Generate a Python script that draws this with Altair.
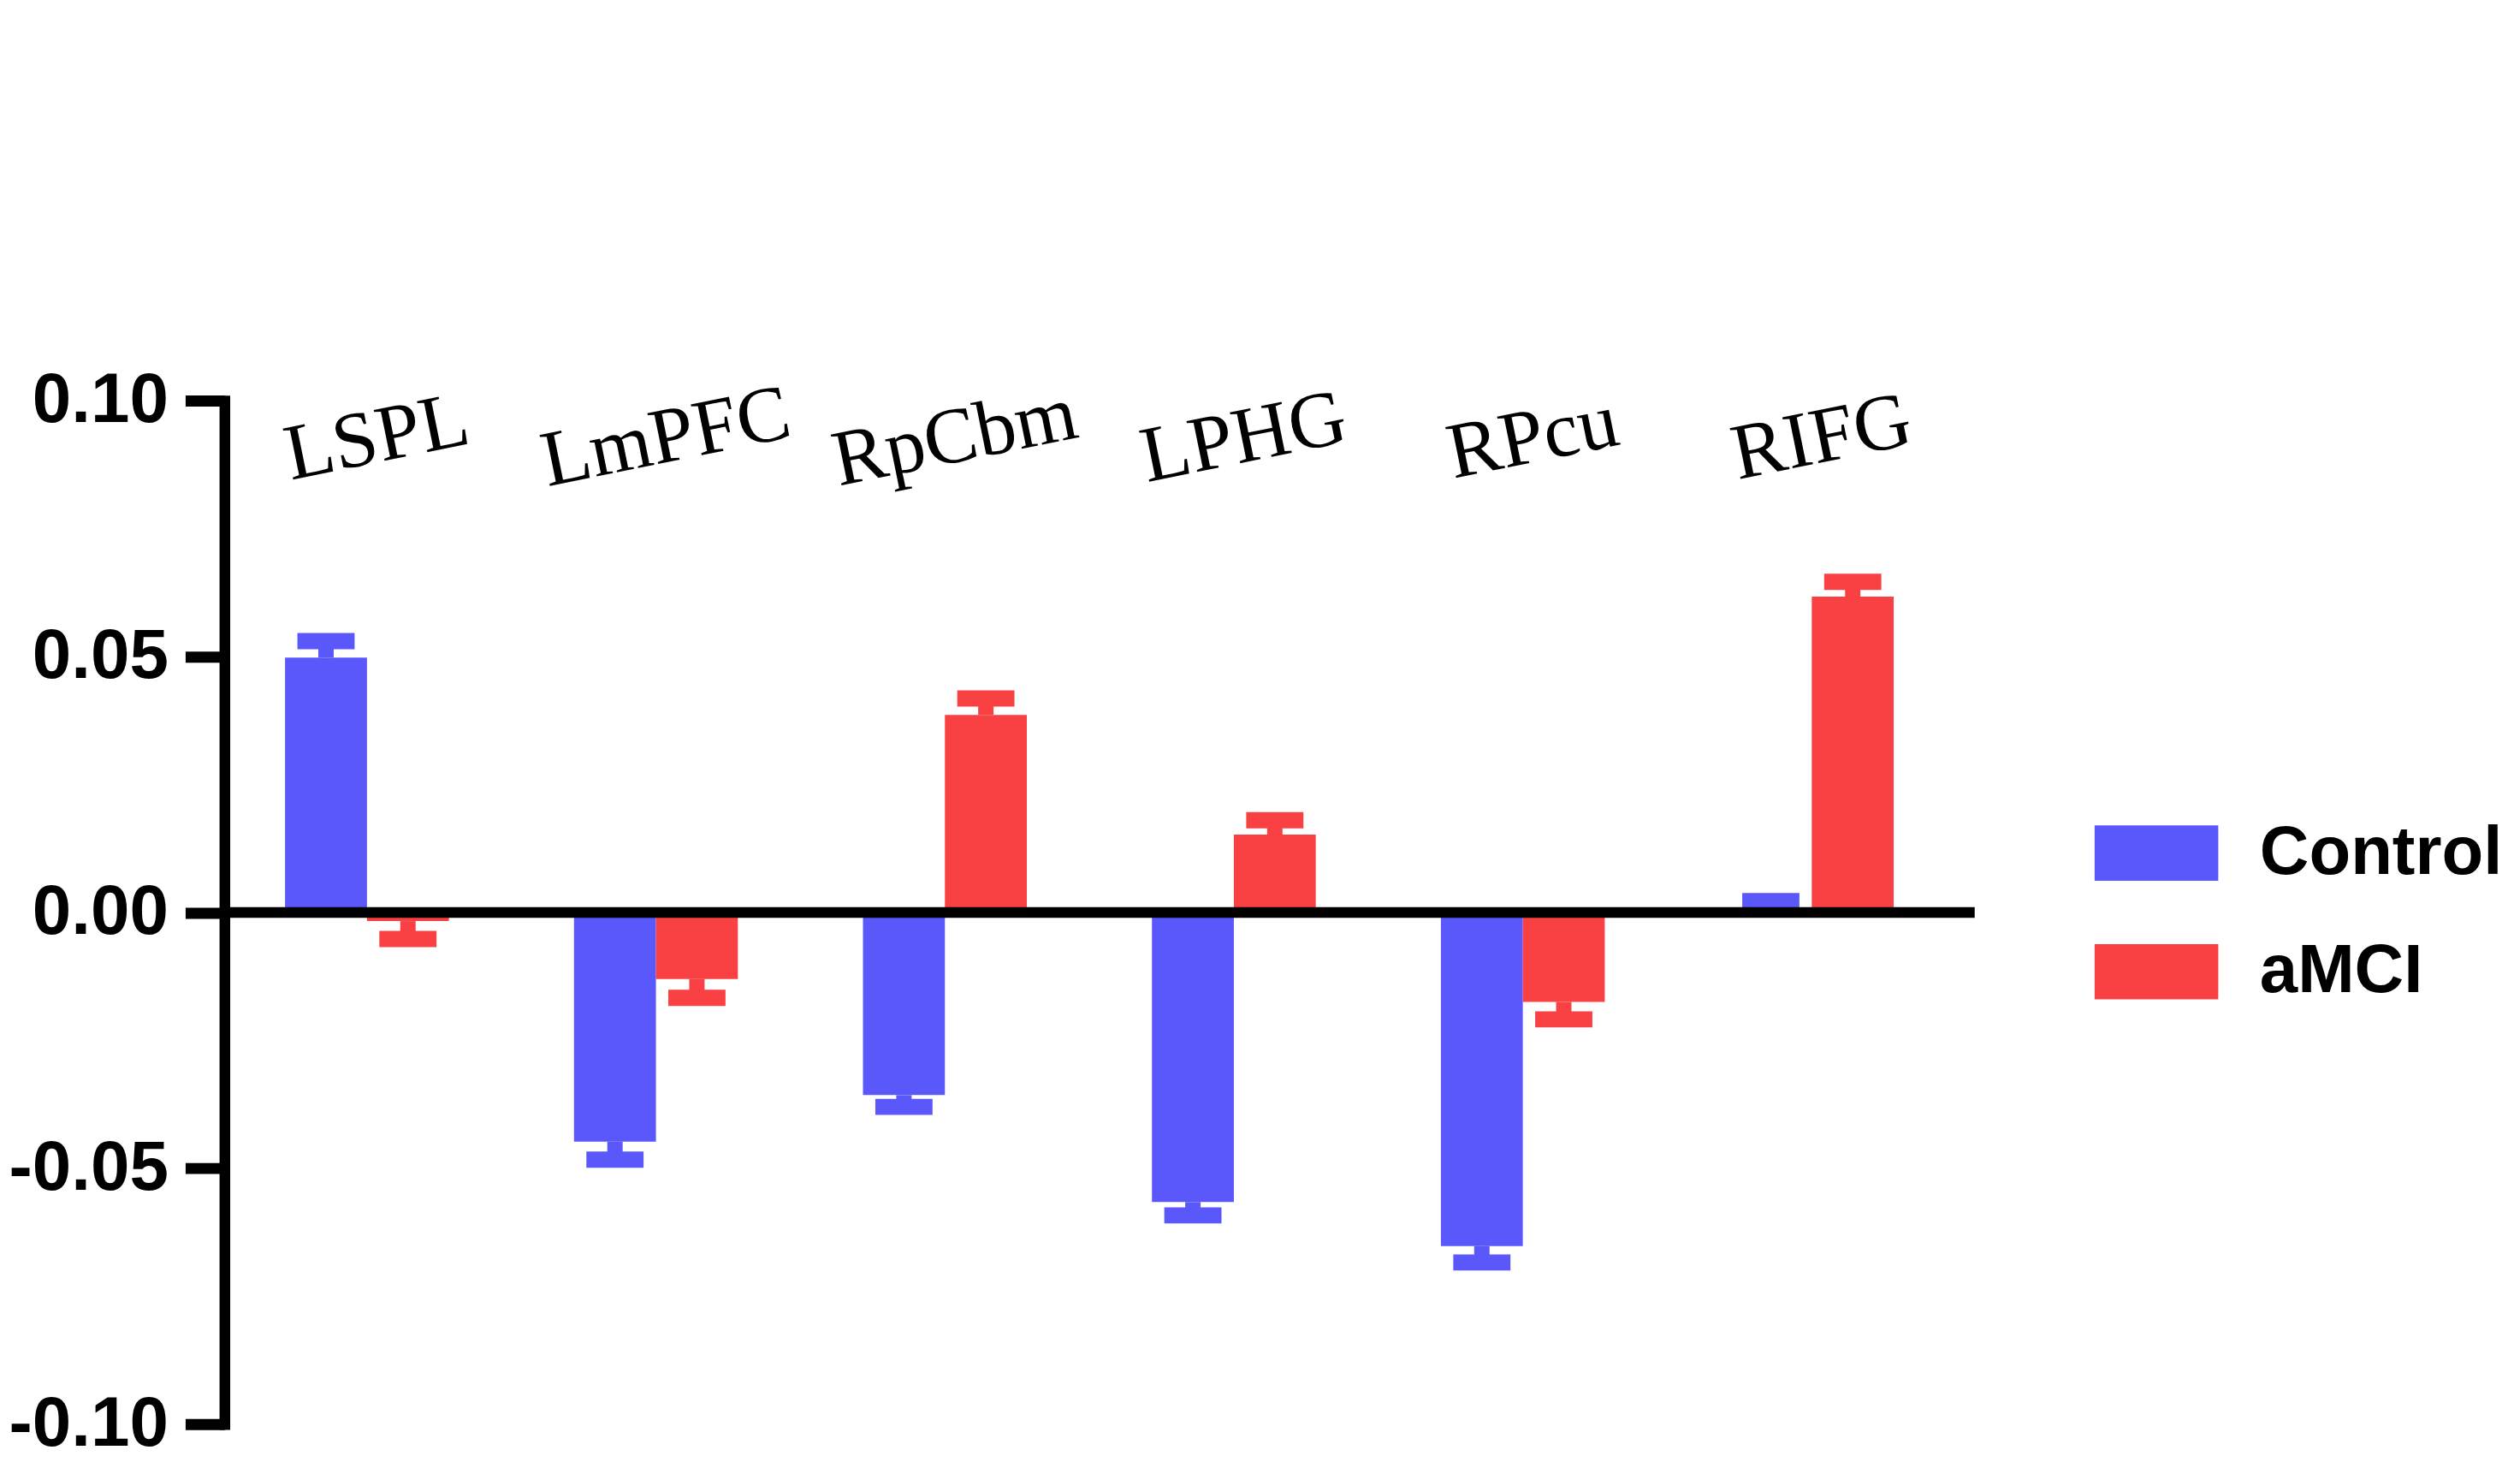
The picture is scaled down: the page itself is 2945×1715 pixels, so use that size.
import altair as alt
import pandas as pd

# ---- data ----
regions = ["LSPL", "LmPFC", "RpCbm", "LPHG", "RPcu", "RIFG"]
groups = ["Control", "aMCI"]
control_mean = [0.0498, -0.0448, -0.0357, -0.0566, -0.0652, 0.0]
control_err_end = [0.0530, -0.0483, -0.0380, -0.0592, -0.0684, 0.0022]
amci_mean = [-0.0017, -0.0130, 0.0386, 0.0152, -0.0175, 0.0617]
amci_err_end = [-0.0052, -0.0167, 0.0418, 0.0180, -0.0209, 0.0646]
colors = ["#5A58FA", "#F94043"]
y_ticks = [-0.10, -0.05, 0.0, 0.05, 0.10]
label_level = 0.0923

rows = []
for i, r in enumerate(regions):
    rows.append({"region": r, "group": "Control", "mean": control_mean[i], "err": control_err_end[i]})
    rows.append({"region": r, "group": "aMCI", "mean": amci_mean[i], "err": amci_err_end[i]})
df = pd.DataFrame(rows)
labels_df = pd.DataFrame({"region": regions})
zero_df = pd.DataFrame({"zero": [0.0]})

x_enc = alt.X("region:N", sort=regions, axis=None,
              scale=alt.Scale(paddingInner=0.433, paddingOuter=0.245, align=0.428))
xo_enc = alt.XOffset("group:N", sort=groups, scale=alt.Scale(paddingInner=0, paddingOuter=0))
y_scale = alt.Scale(domain=[-0.1, 0.1], nice=False, zero=False)

y_axis = alt.Axis(
    values=y_ticks,
    labelExpr="datum.value < 0 ? '-' + format(abs(datum.value), '.2f') : format(datum.value, '.2f')",
    labelFont="Liberation Sans", labelFontSize=82, labelFontWeight="bold", labelColor="black",
    labelPadding=20, labelLimit=500, tickSize=46, tickWidth=13, tickColor="black", tickCap="butt",
    domainWidth=12.5, domainColor="black", domainCap="square",
    grid=False, title=None, labelFlush=False, labelOverlap=False,
)

legend = alt.Legend(
    title=None, orient="none", legendX=2195, legendY=461,
    symbolType="M-1.05,-0.47H1.05V0.47H-1.05Z", symbolSize=19044, symbolStrokeWidth=0,
    symbolOpacity=1,
    labelFont="Liberation Sans", labelFontSize=80, labelFontWeight="bold", labelColor="black",
    labelOffset=52, labelLimit=600, rowPadding=30, padding=0,
)
color_scale = alt.Scale(domain=groups, range=colors)

base = alt.Chart(df)

bars = base.mark_bar(opacity=1).encode(
    x=x_enc, xOffset=xo_enc,
    y=alt.Y("mean:Q", scale=y_scale, axis=y_axis, title=None),
    color=alt.Color("group:N", sort=groups, scale=color_scale, legend=legend),
)

stems = base.mark_rule(strokeWidth=18).encode(
    x=x_enc, xOffset=xo_enc,
    y=alt.Y("mean:Q", scale=y_scale, title=None),
    y2=alt.Y2("err:Q"),
    color=alt.Color("group:N", sort=groups, scale=color_scale, legend=None),
)

caps = base.mark_tick(thickness=19, size=67, opacity=1).encode(
    x=x_enc, xOffset=xo_enc,
    y=alt.Y("err:Q", scale=y_scale, title=None),
    color=alt.Color("group:N", sort=groups, scale=color_scale, legend=None),
)

zero_line = alt.Chart(zero_df).mark_rule(strokeWidth=12.5, color="black").encode(
    y=alt.Y("zero:Q", scale=y_scale, title=None),
)

texts = alt.Chart(labels_df).mark_text(
    font="Liberation Serif", fontSize=93, angle=348.5, align="center", baseline="middle",
    color="black", dx=12
).encode(
    x=x_enc,
    y=alt.datum(label_level),
    text="region:N",
)

chart = alt.layer(bars, stems, caps, zero_line, texts).properties(
    width=2051, height=1199,
    padding={"left": 255, "top": 459, "right": 631, "bottom": 41},
    autosize=alt.AutoSizeParams(type="none"),
).configure(
    background="white",
    view=alt.ViewConfig(stroke=None),
)

chart.save("out.html", embed_options={"renderer": "svg", "actions": False})
